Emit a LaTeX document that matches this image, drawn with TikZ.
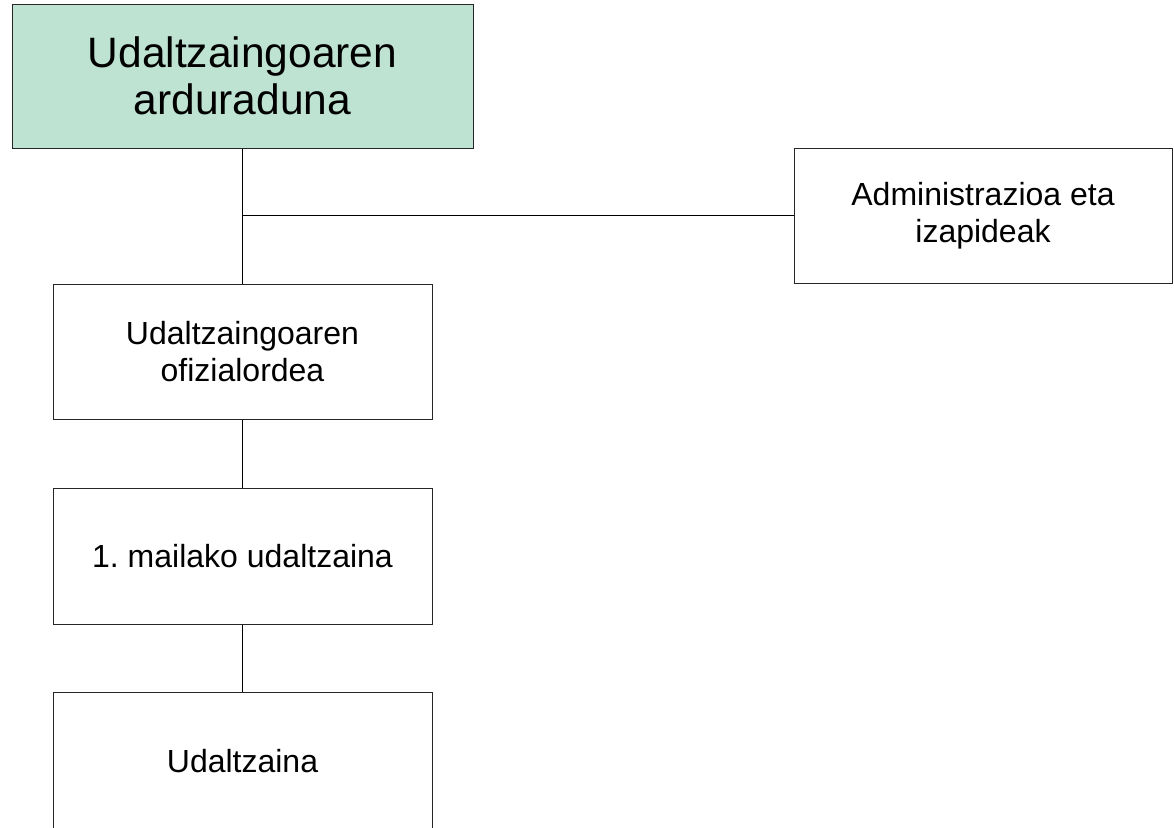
\documentclass[tikz,border=0pt]{standalone}
\usepackage{fontspec}
\setmainfont{Liberation Sans}
\frenchspacing
\definecolor{chiefgreen}{HTML}{BEE3D3}
\tikzset{
  unitbox/.style={draw=black!85, line width=1pt, fill=white, align=center,
    minimum width=379pt, minimum height=135pt, inner sep=0pt,
    font=\fontsize{32}{37}\selectfont},
  chiefbox/.style={unitbox, fill=chiefgreen, minimum width=461pt,
    minimum height=144pt, font=\fontsize{42.5}{47}\selectfont},
  link/.style={draw=black, line width=1pt}
}
\begin{document}
\begin{tikzpicture}[x=1pt,y=-1pt]
  \useasboundingbox (0,0) rectangle (1174,827);
  \draw
    (242.5,76) node[chiefbox] (chief){Udaltzaingoaren\\arduraduna}
    (983,215.5) node[unitbox, minimum width=378pt] (admin){Administrazioa eta\\izapideak}
    (242.5,351.5) node[unitbox] (ofizial){Udaltzaingoaren\\ofizialordea}
    (242.5,556) node[unitbox, minimum height=136pt] (maila){1. mailako udaltzaina}
    (242.5,761) node[unitbox, minimum height=138pt] (udaltzain){Udaltzaina};
  \coordinate (branch) at (chief.south |- admin.west);
  \begin{scope}[link]
    \draw (chief) to (ofizial);
    \draw (branch) to (admin);
    \draw (ofizial) to (maila);
    \draw (maila) to (udaltzain);
  \end{scope}
\end{tikzpicture}
\end{document}
